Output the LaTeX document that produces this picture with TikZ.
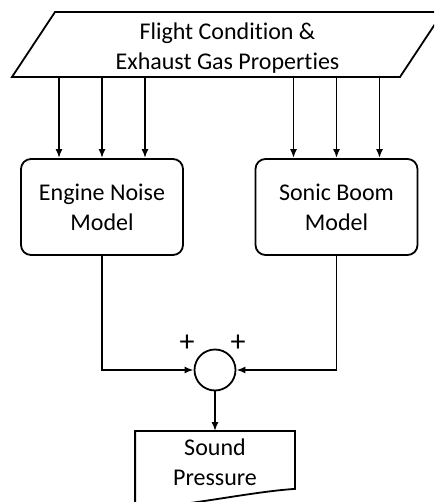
\documentclass[tikz,border=0pt]{standalone}
\usepackage{fontspec}
\setmainfont[Ligatures=NoCommon]{Carlito}
\usetikzlibrary{arrows.meta}
\begin{document}
\begin{tikzpicture}[x=1pt, y=1pt, >={Latex[length=9pt,width=7pt]}, line width=1.8pt,
  txt/.style={align=center, font=\fontsize{24}{30}\selectfont},
  model/.style={txt, draw, rounded corners=10pt, minimum width=162pt, minimum height=96pt}]
 \useasboundingbox (0,0) rectangle (434,502);
 \clip (0,0) rectangle (434,502);
 % inputs
 \draw (55,490) -- (443,490) -- (400,425) -- (12,425) -- cycle;
 \node[txt] (src) at (227.5,454) {Flight Condition \&\\Exhaust Gas Properties};
 \coordinate (inbot) at (0,425);
 % the two models
 \node[model] (eng) at (102,295) {Engine Noise\\Model};
 \node[model] (boom) at (336.5,295) {Sonic Boom\\Model};
 \foreach \dx in {-43,0,43} {
   \draw[->] ([xshift=\dx pt]eng.north |- inbot) -- ([xshift=\dx pt]eng.north);
   \draw[->] ([xshift=\dx pt]boom.north |- inbot) -- ([xshift=\dx pt]boom.north);
 }
 % summing junction
 \node[draw, circle, minimum size=41pt, inner sep=0pt] (sum) at (215,132) {};
 \node[font=\fontsize{30}{30}\selectfont] (pl) at (187,159) {+};
 \node[font=\fontsize{30}{30}\selectfont] (pr) at (238,159) {+};
 \draw[->] (eng.south) |- (sum.west);
 \draw[->] (boom.south) |- (sum.east);
 % output
 \node[txt, minimum width=158pt, minimum height=60pt, inner sep=0pt] (out) at (215,40) {Sound\\Pressure};
 \draw ([yshift=-16pt]out.south west) -- (out.north west) -- (out.north east) -- ([yshift=4pt]out.south east)
   .. controls +(-45,-3) and +(60,4) .. ([yshift=-16pt]out.south west);
 \draw[->] (sum.south) -- (out.north);
\end{tikzpicture}
\end{document}
